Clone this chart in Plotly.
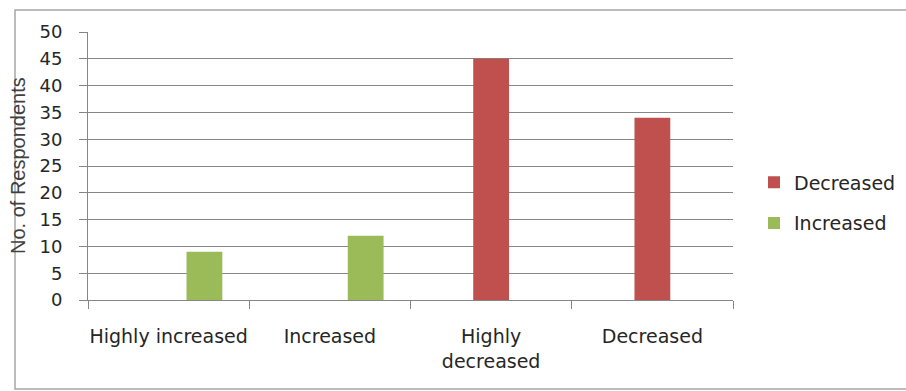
import plotly.graph_objects as go

# Survey responses by change category
categories = ["Highly increased", "Increased", "Highly<br>decreased", "Decreased"]
decreased = [0, 0, 45, 34]
increased = [9, 12, 0, 0]
y_ticks = [0, 5, 10, 15, 20, 25, 30, 35, 40, 45, 50]

RED = "#C0504D"
GREEN = "#9BBB59"
GRID = "#868686"
TEXT = "#262626"
FONT = "DejaVu Sans"

W, H = 906, 391
L, R, T, B = 88, 173, 32, 91
pw, ph = W - L - R, H - T - B


def px_x(v):
    return (v - L) / pw


def px_y(v):
    return (H - B - v) / ph


fig = go.Figure()
fig.add_trace(go.Bar(
    x=categories, y=decreased, name="Decreased",
    marker=dict(color=RED, line=dict(width=0)),
    width=0.222, offset=-0.111, legendgroup="d",
))
fig.add_trace(go.Bar(
    x=categories, y=increased, name="Increased",
    marker=dict(color=GREEN, line=dict(width=0)),
    width=0.222, offset=0.111, legendgroup="i",
))

# outer chart frame
fig.add_shape(
    type="rect", xref="paper", yref="paper",
    x0=px_x(15), x1=px_x(W + 10), y0=px_y(389), y1=px_y(10),
    line=dict(color="#A6A6A6", width=1.5), fillcolor="rgba(0,0,0,0)",
    layer="below",
)

# vertical axis title
fig.add_annotation(
    text="No. of Respondents", textangle=-90,
    xref="paper", yref="paper", x=px_x(18), y=px_y(166),
    xanchor="center", yanchor="middle", showarrow=False,
    font=dict(family="Liberation Sans", size=20, color="#404040"),
)

fig.update_layout(
    width=W, height=H,
    margin=dict(l=L, r=R, t=T, b=B, autoexpand=False),
    paper_bgcolor="white", plot_bgcolor="white",
    barmode="overlay",
    font=dict(family=FONT, size=19, color=TEXT),
    showlegend=True,
    legend=dict(
        x=px_x(754), y=px_y(203), xanchor="left", yanchor="middle",
        font=dict(family=FONT, size=19, color=TEXT),
        traceorder="grouped", tracegroupgap=13,
        bgcolor="rgba(0,0,0,0)",
    ),
    xaxis=dict(
        type="category", categoryorder="array", categoryarray=categories,
        showline=True, linecolor=GRID, linewidth=1,
        ticks="outside", ticklen=8, tickcolor=GRID, tickwidth=1,
        tickson="boundaries", showgrid=False, tickangle=0,
        tickfont=dict(family=FONT, size=19, color=TEXT),
        ticklabelstandoff=19,
        automargin=False,
    ),
    yaxis=dict(
        range=[0, 50], tickvals=y_ticks,
        showline=True, linecolor=GRID, linewidth=1,
        ticks="outside", ticklen=8, tickcolor=GRID, tickwidth=1,
        showgrid=True, gridcolor=GRID, gridwidth=1, zeroline=False,
        tickfont=dict(family=FONT, size=18, color=TEXT),
        ticklabelstandoff=13,
        automargin=False,
    ),
)

fig.write_html("out.html")
